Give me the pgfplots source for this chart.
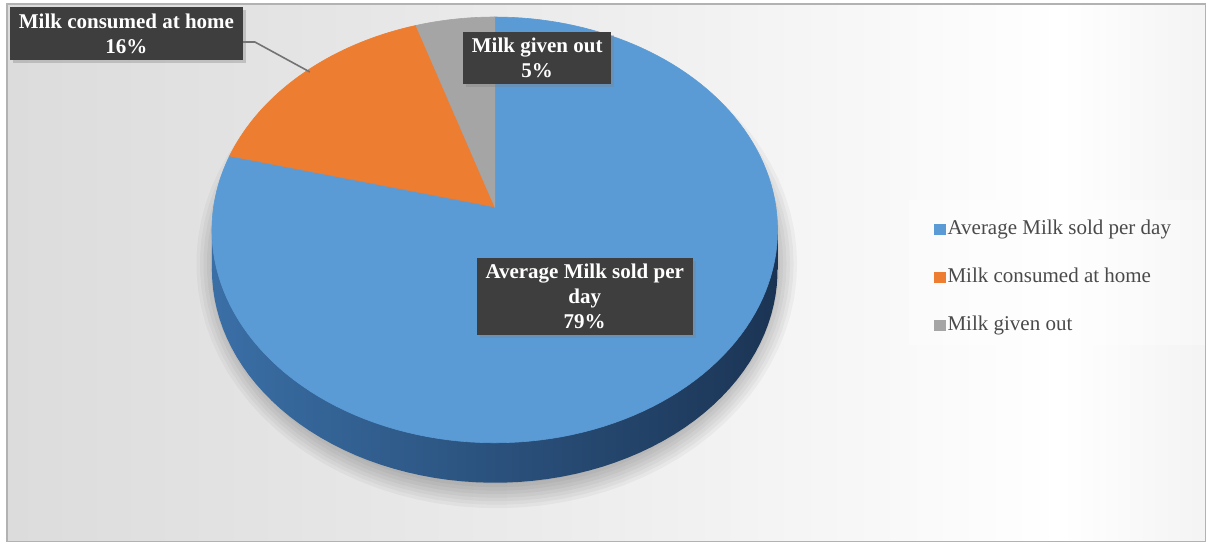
\documentclass[border=0pt]{standalone}
\usepackage{pgfplots}
\usepackage{pgfplotstable}
\pgfplotsset{compat=1.18}
\usepackage{fontspec}
\setmainfont{Liberation Serif}
\usetikzlibrary{shadows}
\definecolor{cBlue}{HTML}{5B9BD5}
\definecolor{cOrange}{HTML}{ED7D31}
\definecolor{cGray}{HTML}{A5A5A5}
\definecolor{sideL}{HTML}{3A6FA6}
\definecolor{sideR}{HTML}{1B3454}
\definecolor{lblfill}{HTML}{3E3E3E}
\definecolor{legtext}{HTML}{4A4A4A}
\definecolor{bgA}{HTML}{C8C8C8}
\definecolor{bgB}{HTML}{D7D7D7}
\definecolor{bgC}{HTML}{ECECEC}
\definecolor{bgD}{HTML}{E2E2E2}
\definecolor{bgE}{HTML}{C6C6C6}
\pgfdeclarehorizontalshading{bgshade}{100bp}{color(0bp)=(bgA); color(18bp)=(bgB); color(48bp)=(bgC); color(69bp)=(white); color(84bp)=(bgD); color(100bp)=(bgE)}
\tikzset{lbl/.style={fill=lblfill, text=white, font=\bfseries\fontsize{10.5}{12.5}\selectfont,
    align=center, inner xsep=4.3pt, inner ysep=3.2pt,
    drop shadow={shadow xshift=1.5pt, shadow yshift=-1.5pt, opacity=0.35}}}

\pgfplotstableread{
share
79
16
5
}\piedata

\begin{document}
\begin{tikzpicture}
\pgfplotstablegetelem{0}{share}\of\piedata \pgfmathsetmacro\vA{\pgfplotsretval}
\pgfplotstablegetelem{1}{share}\of\piedata \pgfmathsetmacro\vB{\pgfplotsretval}
\pgfplotstablegetelem{2}{share}\of\piedata \pgfmathsetmacro\vC{\pgfplotsretval}
\pgfmathsetmacro\aA{90-3.6*\vA}
\pgfmathsetmacro\aB{\aA-3.6*\vB}
\pgfmathsetmacro\aC{\aB-3.6*\vC}
\begin{axis}[
  width=603pt, height=271pt, scale only axis,
  xmin=0, xmax=1206, ymin=0, ymax=542,
  hide axis, clip=false,
  declare function={px(\a)=495+281.3*cos(\a)/(1+0.108*sin(\a)); py(\a)=335+210.5*sin(\a)/(1+0.108*sin(\a));},
  legend style={at={(0.7745,0.5995)}, anchor=north west, draw=none, fill=none,
    inner xsep=0pt, inner ysep=0pt, row sep=12.1pt,
    font=\fontsize{10.5}{12}\selectfont, text=legtext,
    nodes={inner xsep=1pt, inner ysep=1pt, text height=7.5pt, text depth=2.5pt}},
  legend cell align=left,
  legend image code/.code={\fill[#1] (0pt,-2.3pt) rectangle (5.5pt,2.7pt);},
]
% background
\fill[white] (axis cs:0,0) rectangle (axis cs:1206,542);
\shade[shading=bgshade] (axis cs:7,0) rectangle (axis cs:1206,538);
\draw[black!30, line width=0.6pt] (axis cs:7,0) rectangle (axis cs:1206,538);
% legend background
\fill[white, opacity=0.35] (axis cs:909,197) rectangle (axis cs:1206,342);
% soft shadow
\pgfplotsinvokeforeach{0,1,2,3,4,5,6,7}{
  \addplot[forget plot, draw=none, fill=black, fill opacity=0.035, domain=0:360, samples=90, variable=\t]
    ({497+(276+3.5*#1)*cos(\t)}, {278+(220+3.5*#1)*sin(\t)}) -- cycle;
}
% side of the pie
\addplot[forget plot, draw=none, left color=sideL, right color=sideR, domain=0:360, samples=140, variable=\t]
  ({px(\t)}, {py(\t)-40}) -- cycle;
\addplot[forget plot, draw=none, left color=sideL, right color=sideR]
  coordinates {(212,272) (778,272) (778,312) (212,312)} -- cycle;
% top slices
\addplot[fill=cBlue, draw=cBlue, line width=0.3pt, domain=\aA:90, samples=140, variable=\t]
  ({px(\t)}, {py(\t)}) -- (axis cs:495,335) -- cycle;
\addlegendentry{Average Milk sold per day}
\addplot[fill=cOrange, draw=cOrange, line width=0.3pt, domain=\aB:\aA, samples=40, variable=\t]
  ({px(\t)}, {py(\t)}) -- (axis cs:495,335) -- cycle;
\addlegendentry{Milk consumed at home}
\addplot[fill=cGray, draw=cGray, line width=0.3pt, domain=\aC:\aB, samples=20, variable=\t]
  ({px(\t)}, {py(\t)}) -- (axis cs:495,335) -- cycle;
\addlegendentry{Milk given out}
% data labels
\draw[black!55, line width=0.8pt] (axis cs:243,500) -- (axis cs:255,500) -- (axis cs:310,470);
\node[lbl] at (axis cs:126.5,508.5) {Milk consumed at home\\16\%};
\node[lbl] at (axis cs:537.5,484) {Milk given out\\5\%};
\node[lbl] at (axis cs:585,245.5) {Average Milk sold per\\day\\79\%};
\end{axis}
\end{tikzpicture}
\end{document}
